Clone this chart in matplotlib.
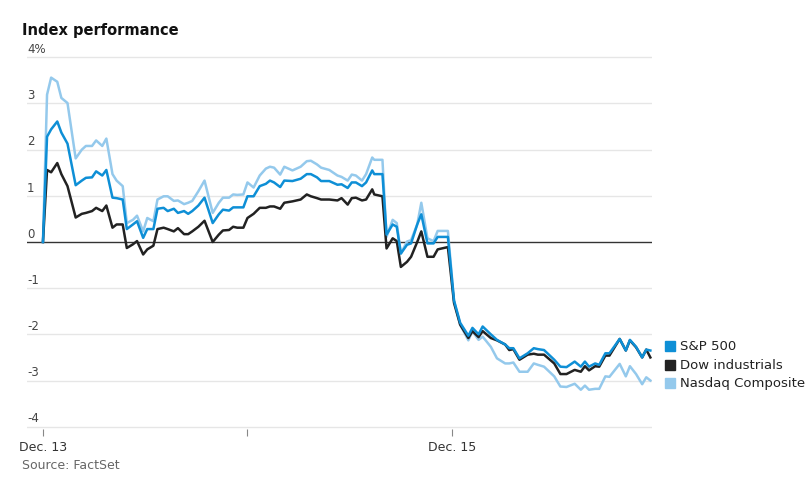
import matplotlib
matplotlib.use("Agg")
import matplotlib.pyplot as plt
import matplotlib.transforms as mtransforms

# days since Dec. 13 open
x_left = [0.00, 0.02, 0.04, 0.07, 0.09, 0.12, 0.16, 0.19, 0.21, 0.24, 0.26, 0.29, 0.31, 0.34, 0.36,
          0.39, 0.41, 0.44, 0.46, 0.49, 0.51, 0.54, 0.56, 0.59, 0.61, 0.64, 0.66, 0.69, 0.71, 0.73,
          0.76, 0.79, 0.83, 0.86, 0.88, 0.91, 0.93, 0.95, 0.98, 1.00, 1.03, 1.06, 1.09, 1.11, 1.13,
          1.16, 1.18, 1.22, 1.26, 1.29, 1.31, 1.34, 1.36, 1.40, 1.44, 1.46, 1.49, 1.51]
x_right = [1.53, 1.56, 1.58, 1.61, 1.62, 1.66, 1.68, 1.71, 1.73, 1.75, 1.78, 1.80, 1.83, 1.85, 1.88,
           1.91, 1.93, 1.98, 2.01, 2.04, 2.08, 2.10, 2.13, 2.15, 2.19, 2.22, 2.26, 2.28, 2.30, 2.33,
           2.37, 2.40, 2.42, 2.45, 2.50, 2.53, 2.56, 2.60, 2.63, 2.65, 2.67, 2.70, 2.72, 2.75, 2.77,
           2.82, 2.85, 2.87, 2.90, 2.93, 2.95, 2.97]
days = x_left + x_right

dow = [0, 1.56, 1.51, 1.71, 1.47, 1.21, 0.53, 0.61, 0.63, 0.67, 0.74, 0.67, 0.79, 0.31, 0.38, 0.38,
       -0.13, -0.05, 0.02, -0.27, -0.16, -0.08, 0.28, 0.31, 0.28, 0.23, 0.30, 0.17, 0.17, 0.23, 0.33,
       0.46, 0.0, 0.16, 0.25, 0.26, 0.33, 0.31, 0.31, 0.52, 0.61, 0.74, 0.74, 0.77, 0.77, 0.72, 0.85,
       0.88, 0.92, 1.03, 0.99, 0.95, 0.92, 0.92, 0.90, 0.95, 0.81, 0.95,
       0.96, 0.90, 0.92, 1.14, 1.03, 0.99, -0.14, 0.08, 0.02, -0.54, -0.43, -0.32, 0.0, 0.23, -0.32,
       -0.32, -0.16, -0.11, -1.32, -1.79, -2.08, -1.93, -2.06, -1.93, -2.08, -2.13, -2.22, -2.34,
       -2.32, -2.55, -2.44, -2.42, -2.44, -2.44, -2.63, -2.86, -2.86, -2.77, -2.81, -2.69, -2.78,
       -2.69, -2.70, -2.46, -2.46, -2.10, -2.35, -2.13, -2.28, -2.50, -2.33, -2.50]
sp500 = [0, 2.28, 2.44, 2.61, 2.37, 2.13, 1.23, 1.33, 1.39, 1.40, 1.53, 1.44, 1.56, 0.96, 0.95, 0.92,
         0.28, 0.38, 0.45, 0.09, 0.28, 0.28, 0.72, 0.74, 0.67, 0.72, 0.63, 0.67, 0.61, 0.67, 0.79,
         0.96, 0.41, 0.60, 0.70, 0.68, 0.75, 0.75, 0.75, 0.99, 0.99, 1.21, 1.26, 1.33, 1.29, 1.19,
         1.33, 1.32, 1.37, 1.47, 1.47, 1.40, 1.32, 1.32, 1.24, 1.25, 1.17, 1.29,
         1.29, 1.21, 1.29, 1.55, 1.47, 1.47, 0.16, 0.38, 0.33, -0.25, -0.06, -0.03, 0.38, 0.60, -0.03,
         -0.03, 0.11, 0.11, -1.27, -1.75, -2.03, -1.86, -2.00, -1.83, -2.00, -2.12, -2.22, -2.30,
         -2.30, -2.52, -2.41, -2.30, -2.32, -2.34, -2.55, -2.70, -2.71, -2.59, -2.70, -2.59, -2.70,
         -2.63, -2.66, -2.41, -2.41, -2.10, -2.35, -2.12, -2.27, -2.50, -2.33, -2.35]
nasdaq = [0, 3.19, 3.56, 3.47, 3.12, 3.01, 1.81, 2.00, 2.08, 2.08, 2.20, 2.08, 2.24, 1.47, 1.33, 1.21,
          0.41, 0.48, 0.57, 0.23, 0.52, 0.45, 0.92, 0.99, 0.99, 0.89, 0.90, 0.82, 0.85, 0.89, 1.10,
          1.33, 0.63, 0.85, 0.96, 0.96, 1.03, 1.02, 1.03, 1.29, 1.18, 1.44, 1.59, 1.63, 1.61, 1.46,
          1.63, 1.55, 1.63, 1.75, 1.76, 1.68, 1.61, 1.56, 1.44, 1.41, 1.33, 1.46,
          1.44, 1.33, 1.47, 1.83, 1.78, 1.78, 0.11, 0.48, 0.41, -0.25, 0.01, 0.04, 0.38, 0.85, 0.08,
          0.02, 0.24, 0.24, -1.27, -1.79, -2.13, -1.93, -2.12, -2.05, -2.27, -2.52, -2.63, -2.63,
          -2.61, -2.81, -2.81, -2.63, -2.66, -2.70, -2.91, -3.13, -3.14, -3.07, -3.20, -3.11, -3.20,
          -3.18, -3.18, -2.91, -2.92, -2.64, -2.91, -2.69, -2.86, -3.08, -2.93, -3.00]

names = ["S&P 500", "Dow industrials", "Nasdaq Composite"]
colors = ["#0e8fd6", "#222222", "#94c9ec"]
y_ticks = [4, 3, 2, 1, 0, -1, -2, -3, -4]
y_labels = ["4%", "3", "2", "1", "0", "-1", "-2", "-3", "-4"]

fig = plt.figure(figsize=(8.1, 4.89), dpi=100)
ax = fig.add_axes([27/810, 59/489, 625/810, 374/489])

for y in y_ticks:
    ax.axhline(y, color="#333333" if y == 0 else "#e6e6e6", lw=1.0, zorder=1)

ax.plot(days, nasdaq, color=colors[2], lw=1.8, zorder=3)
ax.plot(days, sp500, color=colors[0], lw=1.8, zorder=4)
ax.plot(days, dow, color=colors[1], lw=1.8, zorder=3)

ax.set_xlim(-0.078, 2.978)
ax.set_ylim(-4.05, 4.05)
for s in ax.spines.values():
    s.set_visible(False)
ax.set_yticks([])
ax.set_xticks([0, 1, 2])
ax.set_xticklabels(["Dec. 13", "", "Dec. 15"], fontsize=9, color="#333333")
ax.tick_params(axis="x", length=5, color="#888888", pad=3)

trans = mtransforms.blended_transform_factory(ax.transAxes, ax.transData)
for y, lab in zip(y_ticks, y_labels):
    ax.text(0.0, y + 0.05, lab, transform=trans, fontsize=8.5, color="#444444",
            ha="left", va="bottom")

# legend
for i, (n, c) in enumerate(zip(names, colors)):
    yy = 1 - (347 + i * 18.5) / 489
    fig.patches.append(plt.Rectangle((665/810, yy - 5/489), 10/810, 10/489,
                                     transform=fig.transFigure, color=c))
    fig.text(680/810, yy, n, fontsize=9.5, color="#222222", va="center")

fig.text(22/810, 1 - 30/489, "Index performance", fontsize=10.5, fontweight="bold",
         color="#111111", va="center")
fig.text(22/810, 1 - 466/489, "Source: FactSet", fontsize=9, color="#666666", va="center")

fig.savefig("out.png", dpi=100)
